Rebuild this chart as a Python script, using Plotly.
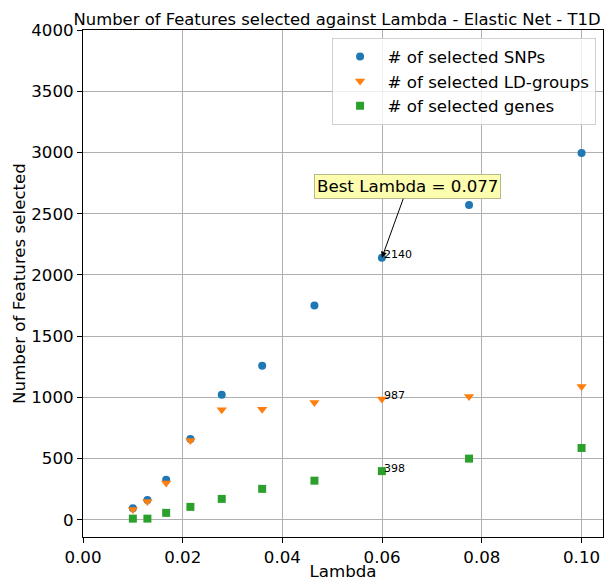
import plotly.graph_objects as go

lambdas = [0.01, 0.01292, 0.01668, 0.02154, 0.02783, 0.03594, 0.04642, 0.05995, 0.07743, 0.1]
snps = [95, 163, 328, 660, 1021, 1258, 1750, 2140, 2570, 2995]
ld_groups = [85, 150, 301, 649, 899, 903, 958, 987, 1008, 1089]
genes = [10, 10, 57, 106, 171, 253, 320, 398, 500, 587]

best_idx = 7
best_text = "Best Lambda = 0.077"

FONT = "DejaVu Sans"
FS = 16.67
fig = go.Figure()
fig.add_trace(go.Scatter(x=lambdas, y=snps, mode="markers", name="# of selected SNPs",
                         marker=dict(symbol="circle", size=8, color="#1f77b4")))
fig.add_trace(go.Scatter(x=lambdas, y=ld_groups, mode="markers", name="# of selected LD-groups",
                         marker=dict(symbol="triangle-down", size=9, color="#ff7f0e")))
fig.add_trace(go.Scatter(x=lambdas, y=genes, mode="markers", name="# of selected genes",
                         marker=dict(symbol="square", size=8, color="#2ca02c")))

for series in (snps, ld_groups, genes):
    fig.add_annotation(x=lambdas[best_idx], y=series[best_idx], text=str(series[best_idx]),
                       showarrow=False, xanchor="left", yanchor="middle", yshift=3,
                       font=dict(family=FONT, size=11, color="black"))

fig.add_annotation(x=lambdas[best_idx], y=snps[best_idx], ax=0.0651, ay=2720,
                   axref="x", ayref="y", text=best_text, showarrow=True,
                   arrowhead=2, arrowsize=1.2, arrowwidth=1, arrowcolor="black", standoff=0,
                   bgcolor="#fdfdaf", bordercolor="#b8b88a", borderwidth=1, borderpad=2,
                   font=dict(family=FONT, size=FS, color="black"))

axis_common = dict(showline=True, linecolor="black", linewidth=1, mirror=True,
                   ticks="outside", ticklen=5, tickcolor="black", automargin=False,
                   showgrid=True, gridcolor="#b0b0b0", gridwidth=1, zeroline=False,
                   tickfont=dict(family=FONT, size=FS, color="black"))

# page body has an 8px margin, so the figure is sized to fit the window from there
fig.update_layout(
    width=606, height=573,
    margin=dict(l=75, r=11, t=22, b=44, autoexpand=False),
    paper_bgcolor="white", plot_bgcolor="white",
    font=dict(family=FONT, size=FS, color="black"),
    title=dict(text="Number of Features selected against Lambda - Elastic Net - T1D",
               x=0.543, xanchor="center", y=0.981, yref="container", yanchor="middle",
               font=dict(family=FONT, size=16.4, color="black")),
    xaxis=dict(range=[0, 0.1043], tickvals=[0, 0.02, 0.04, 0.06, 0.08, 0.10], tickformat=".2f",
               title=dict(text="Lambda", standoff=2, font=dict(family=FONT, size=FS)),
               **axis_common),
    yaxis=dict(range=[-140, 4000], tickvals=list(range(0, 4001, 500)),
               title=dict(text="Number of Features selected", standoff=1, font=dict(family=FONT, size=FS)),
               **axis_common),
    legend=dict(x=0.478, xanchor="left", y=0.984, yanchor="top",
                bgcolor="rgba(255,255,255,0.8)", bordercolor="#d0d0d0", borderwidth=1,
                font=dict(family=FONT, size=FS, color="black"), itemsizing="trace",
                itemwidth=45, tracegroupgap=0),
    showlegend=True,
)

fig.write_html("out.html")
